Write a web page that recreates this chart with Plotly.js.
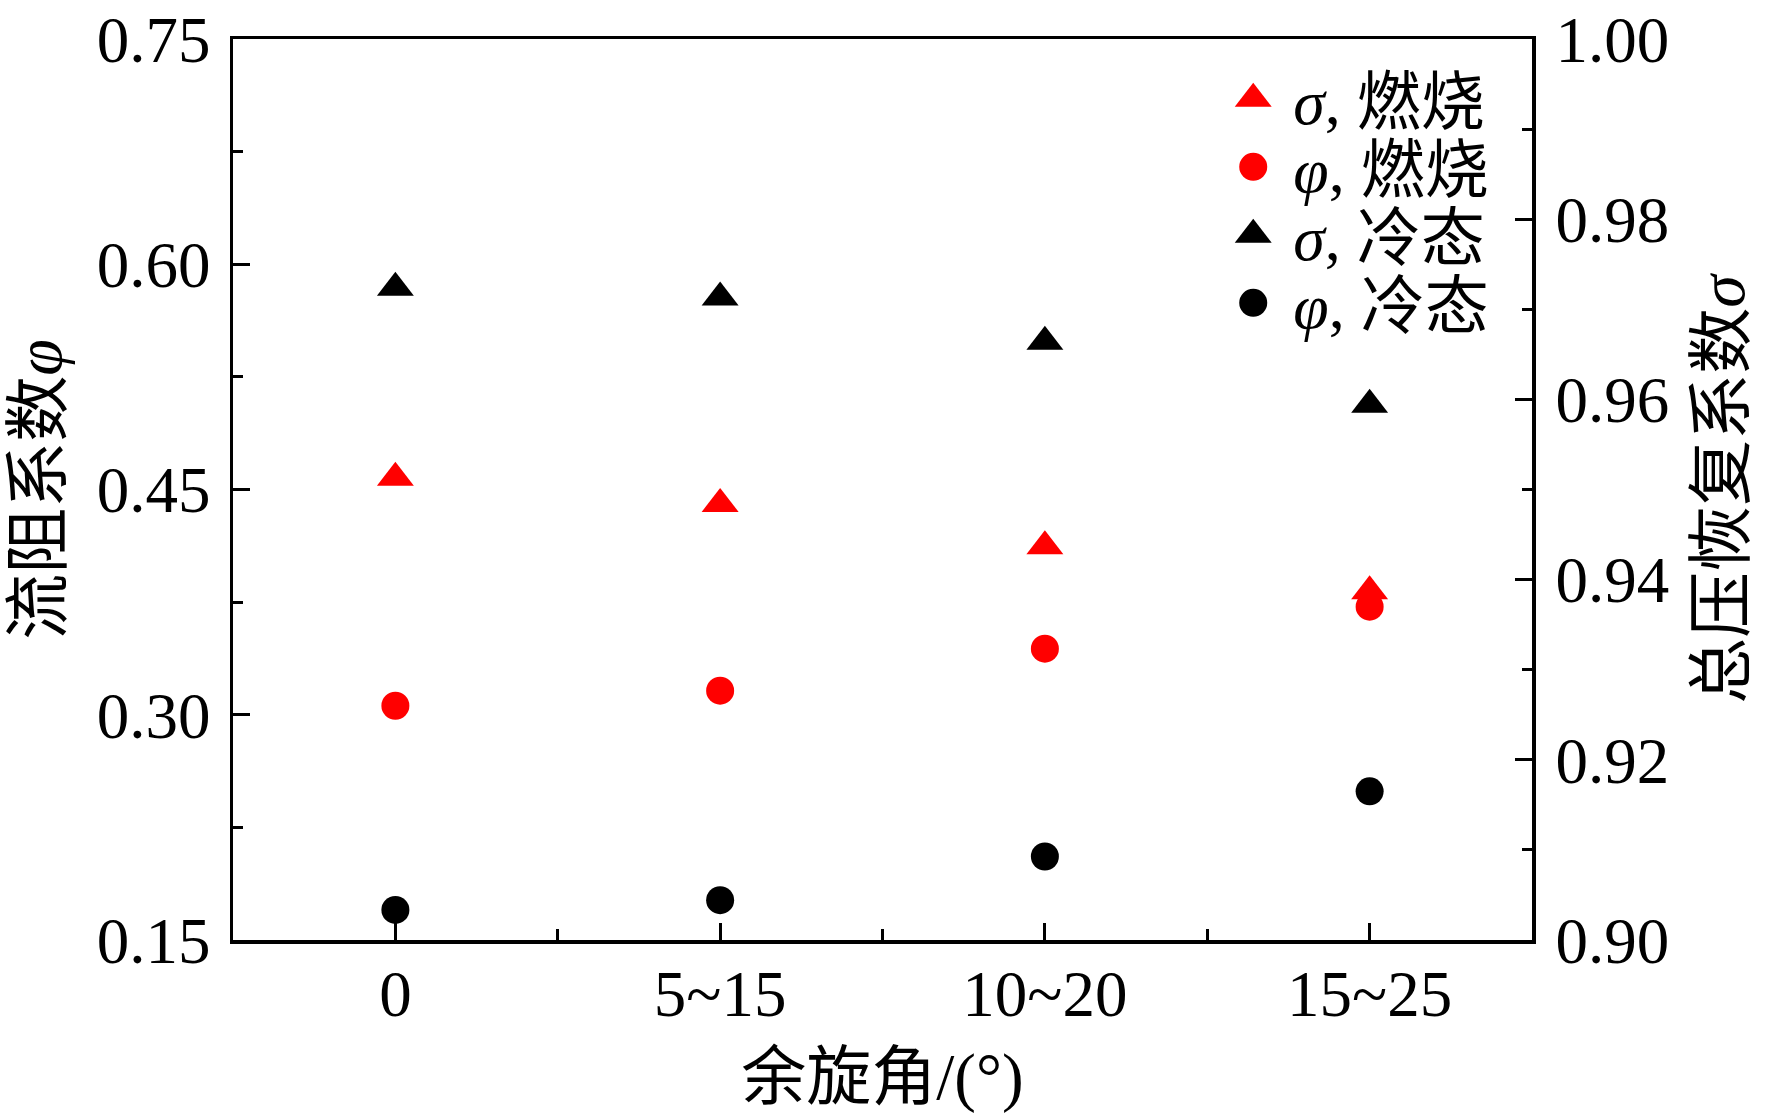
<!DOCTYPE html>
<html><head><meta charset="utf-8">
<script src="https://cdn.plot.ly/plotly-3.0.1.min.js"></script>
<style>html,body{margin:0;padding:0;background:#fff}</style>
</head><body><div id="chart" style="width:1772px;height:1115px"></div>
<script>
// categories (余旋角)
const categories = ['0', '5~15', '10~20', '15~25'];
// σ (total pressure recovery, right axis)
const sigmaCombustion = [0.9513, 0.9484, 0.9437, 0.9387];
const sigmaCold = [0.9724, 0.9713, 0.9664, 0.9594];
// φ (flow resistance, left axis)
const phiCombustion = [0.306, 0.316, 0.344, 0.372];
const phiCold = [0.170, 0.1765, 0.2056, 0.249];
// tick values
const phiTicks = [0.15, 0.30, 0.45, 0.60, 0.75];
const sigmaTicks = [0.90, 0.92, 0.94, 0.96, 0.98, 1.00];
// legend names
const names = ['<i>σ</i>, 燃烧', '<i>φ</i>, 燃烧', '<i>σ</i>, 冷态', '<i>φ</i>, 冷态'];

const FONT = '"Liberation Serif", "Times New Roman", "Noto Sans CJK SC", serif';
const xIdx = categories.map((c, i) => i);

const traces = [
  {x: xIdx, y: sigmaCombustion, yaxis: 'y2', name: names[0], mode: 'markers',
   marker: {symbol: 'triangle-up', size: 32, color: '#ff0000'}},
  {x: xIdx, y: phiCombustion, yaxis: 'y', name: names[1], mode: 'markers',
   marker: {symbol: 'circle', size: 28, color: '#ff0000'}},
  {x: xIdx, y: sigmaCold, yaxis: 'y2', name: names[2], mode: 'markers',
   marker: {symbol: 'triangle-up', size: 32, color: '#000000'}},
  {x: xIdx, y: phiCold, yaxis: 'y', name: names[3], mode: 'markers',
   marker: {symbol: 'circle', size: 28, color: '#000000'}}
];

const layout = {
  width: 1772, height: 1115,
  margin: {l: 233, r: 240, t: 39, b: 175},
  paper_bgcolor: '#fff', plot_bgcolor: '#fff',
  font: {family: FONT, size: 65, color: '#000'},
  showlegend: true,
  legend: {x: 0.77, y: 0.987, xanchor: 'left', yanchor: 'top', itemwidth: 50,
           bgcolor: 'rgba(0,0,0,0)', borderwidth: 0,
           font: {family: FONT, size: 64, color: '#000'}},
  xaxis: {
    range: [-0.5, 3.5], tickmode: 'array', tickvals: xIdx, ticktext: categories,
    showline: true, linewidth: 3.5, linecolor: '#000', mirror: true,
    ticks: 'inside', ticklen: 17, tickwidth: 3, tickcolor: '#000',
    minor: {ticks: 'inside', ticklen: 11, tickwidth: 3, tickcolor: '#000', tickvals: [0.5, 1.5, 2.5]},
    showgrid: false, zeroline: false, ticklabelstandoff: -6, ticklabeloverflow: 'allow',
    tickfont: {family: FONT, size: 65},
    title: {text: '余旋角/(°)', font: {family: FONT, size: 65}, standoff: 26}
  },
  yaxis: {
    range: [0.15, 0.75], tickmode: 'array', tickvals: phiTicks,
    ticktext: phiTicks.map(v => v.toFixed(2)),
    showline: true, linewidth: 3.5, linecolor: '#000',
    ticks: 'inside', ticklen: 17, tickwidth: 3, tickcolor: '#000',
    minor: {ticks: 'inside', ticklen: 10, tickwidth: 3, tickcolor: '#000', dtick: 0.075, tick0: 0.15},
    showgrid: false, zeroline: false, ticklabelstandoff: 6, ticklabeloverflow: 'allow',
    tickfont: {family: FONT, size: 65},
    title: {text: '流阻系数<i>φ</i>', font: {family: FONT, size: 66}, standoff: 14}
  },
  yaxis2: {
    overlaying: 'y', side: 'right',
    range: [0.90, 1.00], tickmode: 'array', tickvals: sigmaTicks,
    ticktext: sigmaTicks.map(v => v.toFixed(2)),
    showline: true, linewidth: 3.5, linecolor: '#000',
    ticks: 'inside', ticklen: 17, tickwidth: 3, tickcolor: '#000',
    minor: {ticks: 'inside', ticklen: 10, tickwidth: 3, tickcolor: '#000', dtick: 0.01, tick0: 0.90},
    showgrid: false, zeroline: false, ticklabelstandoff: 7, ticklabeloverflow: 'allow',
    tickfont: {family: FONT, size: 65},
    title: {text: '总压恢复系数<i>σ</i>', font: {family: FONT, size: 66}, standoff: 30}
  }
};

const legendScale = [2, 1.75, 2, 1.75];
const legendRowGap = 68;

Plotly.newPlot('chart', traces, layout, {staticPlot: true, displayModeBar: false}).then(function () {
  const items = document.querySelectorAll('.legend g.traces');
  let y0 = null;
  items.forEach(function (g, i) {
    // enlarge legend symbols to match marker size in the plot
    g.querySelectorAll('path.scatterpts').forEach(function (p) {
      const t = p.getAttribute('transform') || '';
      p.setAttribute('transform', 'translate(-10,0) ' + t + ' scale(' + legendScale[i] + ')');
    });
    // tighten row spacing like the reference legend
    const t = g.getAttribute('transform') || '';
    const m = /translate\(\s*([-\d.e]+)[\s,]+([-\d.e]+)\s*\)/.exec(t);
    if (m) {
      if (y0 === null) y0 = parseFloat(m[2]);
      g.setAttribute('transform', 'translate(' + m[1] + ',' + (y0 + i * legendRowGap) + ')');
    }
  });
});
</script></body></html>
